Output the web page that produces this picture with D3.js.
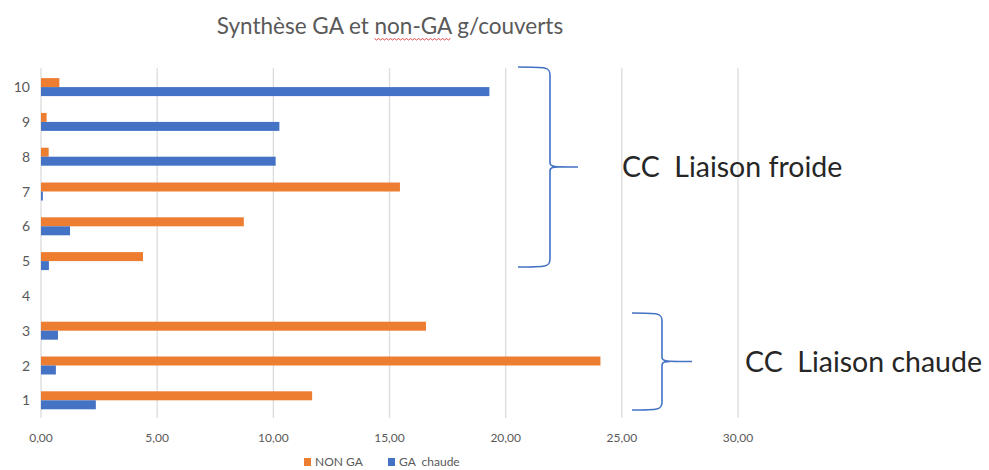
<!DOCTYPE html>
<html>
<head>
<meta charset="utf-8">
<style>
  body { margin: 0; background: #fff; }
  text { font-family: Lato, "Open Sans", sans-serif; }
</style>
</head>
<body>
<svg width="989" height="470"></svg>
<script src="https://d3js.org/d3.v7.min.js"></script>
<script>
var categories = ["1", "2", "3", "4", "5", "6", "7", "8", "9", "10"];
var nonGA    = [11.67, 24.08, 16.57, 0, 4.39, 8.73, 15.45, 0.33, 0.24, 0.79];
var gaChaude = [2.36, 0.64, 0.73, 0, 0.34, 1.25, 0.08, 10.10, 10.26, 19.30];
var seriesNames = ["NON GA", "GA  chaude"];
var seriesColors = ["#ED7D31", "#4472C4"];
var xTicks = [0, 5, 10, 15, 20, 25, 30];

var svg = d3.select("svg");

var x = d3.scaleLinear().domain([0, 30]).range([41, 738]);

var y = d3.scaleBand()
    .domain(categories.slice().reverse())
    .range([69.7, 417.7])
    .paddingInner(0.483)
    .paddingOuter(0.2415);

var ys = d3.scaleBand().domain(seriesNames).range([0, y.bandwidth()]);

var fmt = function(v) { return d3.format(".2f")(v).replace(".", ","); };

// gridlines
svg.append("g").selectAll("line")
  .data(xTicks)
  .join("line")
    .attr("x1", d => x(d)).attr("x2", d => x(d))
    .attr("y1", 68).attr("y2", 418)
    .attr("stroke", "#dcdcdc").attr("stroke-width", 1.3);

// x tick labels
svg.append("g").selectAll("text")
  .data(xTicks)
  .join("text")
    .attr("x", d => x(d)).attr("y", 442)
    .attr("text-anchor", "middle")
    .attr("font-size", 12).attr("fill", "#595959")
    .text(fmt);

// y labels
svg.append("g").selectAll("text")
  .data(categories)
  .join("text")
    .attr("x", 30).attr("y", d => y(d) + y.bandwidth() / 2 + 5)
    .attr("text-anchor", "end")
    .attr("font-size", 14).attr("fill", "#595959")
    .text(d => d);

// bars
var rows = categories.map((c, i) => ({cat: c, vals: [nonGA[i], gaChaude[i]]}));
var grp = svg.append("g").selectAll("g")
  .data(rows)
  .join("g")
    .attr("transform", d => "translate(0," + y(d.cat) + ")");

grp.selectAll("rect")
  .data(d => d.vals.map((v, j) => ({v: v, s: seriesNames[j], c: seriesColors[j]})))
  .join("rect")
    .attr("x", x(0))
    .attr("y", d => ys(d.s))
    .attr("width", d => x(d.v) - x(0))
    .attr("height", ys.bandwidth())
    .attr("fill", d => d.c);

// title
var title = svg.append("text")
    .attr("x", 390).attr("y", 34)
    .attr("text-anchor", "middle")
    .attr("font-size", 22.5).attr("fill", "#595959")
    .text("Synthèse GA et non-GA g/couverts");

// spell-check squiggle under "non-GA"
var tnode = title.node();
var s = tnode.textContent.indexOf("non-GA");
var p0 = tnode.getStartPositionOfChar(s).x;
var p1 = tnode.getEndPositionOfChar(s + 5).x;
var zz = [];
for (var px = p0, k = 0; px <= p1; px += 2, k++) zz.push([px, k % 2 ? 40 : 38.5]);
svg.append("path")
    .attr("d", d3.line()(zz))
    .attr("fill", "none").attr("stroke", "#e03030").attr("stroke-width", 0.9);

// legend
var legend = svg.append("g").attr("transform", "translate(304,464)");
var lg = legend.selectAll("g")
  .data(seriesNames)
  .join("g")
    .attr("transform", (d, i) => "translate(" + (i * 84) + ",0)");
lg.append("rect")
    .attr("x", 0).attr("y", -6).attr("width", 7).attr("height", 8)
    .attr("fill", (d, i) => seriesColors[i]);
lg.append("text")
    .attr("x", 11).attr("y", 2)
    .attr("font-size", 12).attr("fill", "#595959")
    .style("white-space", "pre")
    .text(d => d);

// braces and group annotations
var braces = [
  {top: 67, bottom: 267, left: 518, spine: 550, tip: 578, label: "CC  Liaison froide", lx: 622},
  {top: 313, bottom: 410, left: 632, spine: 662, tip: 692, label: "CC  Liaison chaude", lx: 745}
];

function bracePath(b) {
  var mid = (b.top + b.bottom) / 2;
  var r = 8;
  return "M" + b.left + "," + b.top +
    " C" + (b.spine - 4) + "," + b.top + " " + b.spine + "," + b.top + " " + b.spine + "," + (b.top + r) +
    " L" + b.spine + "," + (mid - r / 2) +
    " C" + b.spine + "," + mid + " " + (b.spine + 4) + "," + mid + " " + b.tip + "," + mid +
    " M" + b.spine + "," + (mid + r / 2) +
    " C" + b.spine + "," + mid + " " + (b.spine + 4) + "," + mid + " " + (b.spine + 8) + "," + mid +
    " M" + b.spine + "," + (mid + r / 2) +
    " L" + b.spine + "," + (b.bottom - r) +
    " C" + b.spine + "," + b.bottom + " " + (b.spine - 4) + "," + b.bottom + " " + b.left + "," + b.bottom;
}

svg.append("g").selectAll("path")
  .data(braces)
  .join("path")
    .attr("d", bracePath)
    .attr("fill", "none").attr("stroke", "#4472C4").attr("stroke-width", 1.6);

svg.append("g").selectAll("text")
  .data(braces)
  .join("text")
    .attr("x", d => d.lx).attr("y", d => (d.top + d.bottom) / 2 + 10)
    .attr("font-size", 28.5).attr("fill", "#262626")
    .style("white-space", "pre")
    .text(d => d.label);
</script>
</body>
</html>
